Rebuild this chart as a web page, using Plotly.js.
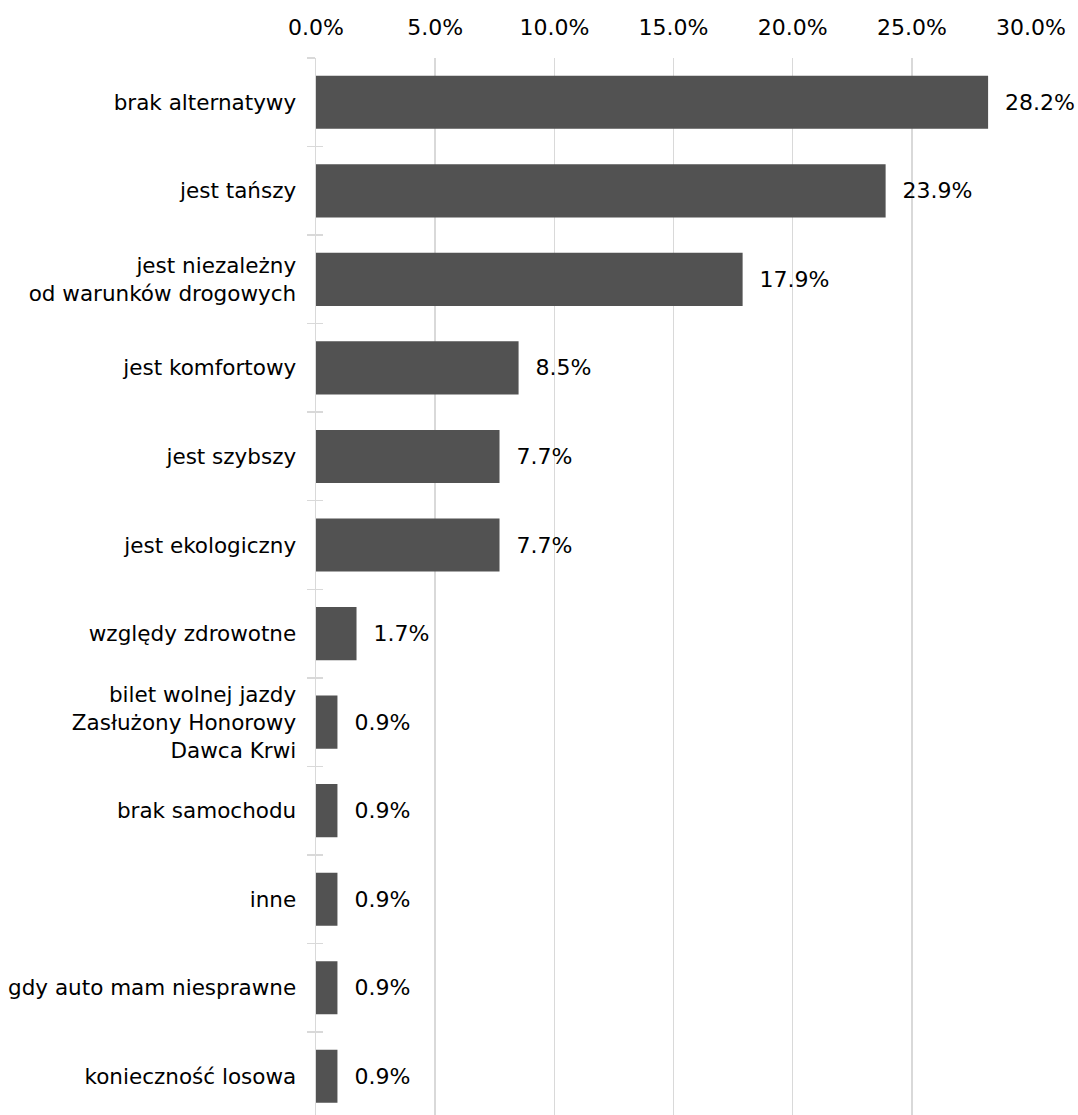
<!DOCTYPE html>
<html>
<head>
<meta charset="utf-8">
<script src="https://cdn.plot.ly/plotly-3.0.1.min.js"></script>
<style>html,body{margin:0;padding:0;background:#fff;}#chart{width:1078px;height:1115px;}</style>
</head>
<body>
<div id="chart"></div>
<script>
const categories = [
  "brak alternatywy",
  "jest tańszy",
  "jest niezależny<br>od warunków drogowych",
  "jest komfortowy",
  "jest szybszy",
  "jest ekologiczny",
  "względy zdrowotne",
  "bilet wolnej jazdy<br>Zasłużony Honorowy<br>Dawca Krwi",
  "brak samochodu",
  "inne",
  "gdy auto mam niesprawne",
  "konieczność losowa"
];
const values = [28.2, 23.9, 17.9, 8.5, 7.7, 7.7, 1.7, 0.9, 0.9, 0.9, 0.9, 0.9];
const xTicks = [0, 5, 10, 15, 20, 25, 30];
const xTickLabels = ["0.0%", "5.0%", "10.0%", "15.0%", "20.0%", "25.0%", "30.0%"];

const FONT = "DejaVu Sans, Verdana, sans-serif";
const GRID = "#d9d9d9";
const FS = 22;

const traces = [
  {
    type: "bar",
    orientation: "h",
    x: values,
    y: categories,
    marker: {color: "#525252"},
    texttemplate: "\u00a0\u00a0%{x:.1f}%",
    textposition: "outside",
    cliponaxis: false,
    textfont: {family: FONT, size: FS, color: "#000"},
    hoverinfo: "skip"
  },
  {
    type: "bar",
    orientation: "h",
    x: values,
    y: categories,
    yaxis: "y2",
    marker: {color: "rgba(0,0,0,0)"},
    hoverinfo: "skip",
    showlegend: false
  }
];

const yRange = [11.437, -0.5];

const layout = {
  width: 1078,
  height: 1115,
  margin: {l: 316, r: 47, t: 58, b: 0, pad: 0},
  paper_bgcolor: "#fff",
  plot_bgcolor: "#fff",
  showlegend: false,
  bargap: 0.4,
  font: {family: FONT, size: FS, color: "#000"},
  xaxis: {
    side: "top",
    range: [0, 30],
    tickmode: "array",
    tickvals: xTicks,
    ticktext: xTickLabels,
    showgrid: true,
    gridcolor: GRID,
    gridwidth: 1.5,
    zeroline: false,
    showline: false,
    ticks: "",
    ticklabelstandoff: 18,
    tickfont: {family: FONT, size: FS, color: "#000"},
    fixedrange: true
  },
  yaxis: {
    type: "category",
    categoryorder: "array",
    categoryarray: categories,
    range: yRange,
    showline: true,
    linecolor: GRID,
    linewidth: 1.5,
    ticks: "outside",
    tickson: "boundaries",
    ticklen: 8,
    tickwidth: 1.5,
    tickcolor: GRID,
    showgrid: false,
    zeroline: false,
    ticklabelstandoff: 14,
    tickfont: {family: FONT, size: 21.5, color: "#000"},
    fixedrange: true
  },
  yaxis2: {
    type: "category",
    overlaying: "y",
    side: "left",
    categoryorder: "array",
    categoryarray: categories,
    range: yRange,
    showline: false,
    ticks: "inside",
    tickson: "boundaries",
    ticklen: 7,
    tickwidth: 1.5,
    tickcolor: GRID,
    showticklabels: false,
    showgrid: false,
    zeroline: false,
    fixedrange: true
  }
};

Plotly.newPlot("chart", traces, layout, {displayModeBar: false, staticPlot: true});
</script>
</body>
</html>
